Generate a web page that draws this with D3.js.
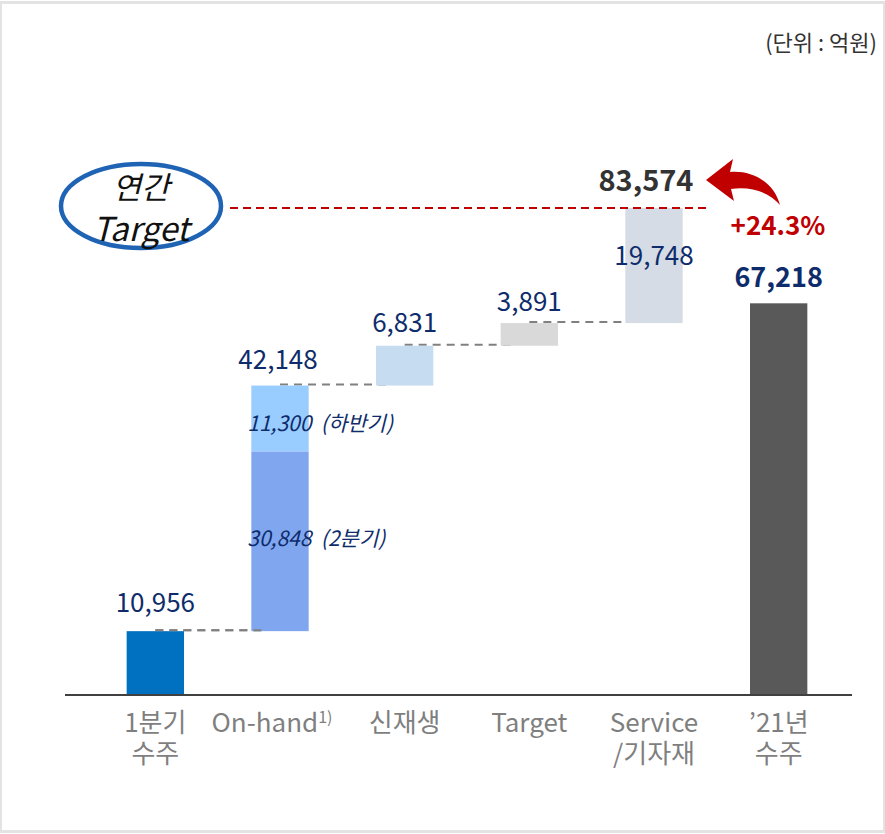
<!DOCTYPE html>
<html>
<head>
<meta charset="utf-8">
<script src="https://cdn.jsdelivr.net/npm/d3@7"></script>
<style>
  body { margin: 0; background: #fff; }
  svg { display: block; font-family: "Noto Sans CJK KR", "Noto Sans", sans-serif; }
</style>
</head>
<body>
<div id="chart"></div>
<script>
/**
 * Data
 */
const categories = ["1분기 수주", "On-hand", "신재생", "Target", "Service /기자재", "'21년 수주"];
const labelLines = [["1분기", "수주"], ["On-hand"], ["신재생"], ["Target"], ["Service", "/기자재"], ["’21년", "수주"]];
const steps = [10956, 42148, 6831, 3891, 19748];
const onHandParts = [30848, 11300];
const onHandPartLabels = ["30,848 (2분기)", "11,300 (하반기)"];
const actual = 67218;
const growthLabel = "+24.3%";

const width = 885;
const height = 834;

const svg = d3.select("#chart")
  .append("svg")
  .attr("width", width)
  .attr("height", height);

// frame
svg.append("rect")
  .attr("x", 0.5).attr("y", 2.5)
  .attr("width", width - 1).attr("height", height - 5)
  .attr("fill", "#fff")
  .attr("stroke", "#e3e3e3")
  .attr("stroke-width", 3);

/**
 * Scales
 */
let running = 0;
const bars = steps.map(function(v, i) {
  const b = { cat: categories[i], start: running, end: running + v, value: v };
  running += v;
  return b;
});
const total = running;

const x = d3.scaleBand()
  .domain(categories)
  .range([93, 841])
  .paddingInner(0.54)
  .paddingOuter(0.27);

const y = d3.scaleLinear()
  .domain([0, total])
  .range([695, 208]);

const barColors = ["#0070C0", null, "#C6DCF0", "#D9D9D9", "#D6DCE5"];
const navy = "#0E2C6B";

function connector(b, i) {
  svg.append("line")
    .attr("x1", x(b.cat) + x.bandwidth() / 2)
    .attr("x2", x(categories[i + 1]) + 10)
    .attr("y1", y(b.end) - 1)
    .attr("y2", y(b.end) - 1)
    .attr("stroke", "#808080")
    .attr("stroke-width", 2)
    .attr("stroke-dasharray", "8,6");
}

/**
 * Connectors
 */
bars.slice(0, -1).forEach(connector);

/**
 * Bars
 */
bars.forEach(function(b, i) {
  if (i === 1) return;
  svg.append("rect")
    .attr("x", x(b.cat))
    .attr("y", y(b.end))
    .attr("width", x.bandwidth())
    .attr("height", y(b.start) - y(b.end))
    .attr("fill", barColors[i]);
});

// on-hand split
const partColors = ["#80A6F0", "#99CCFF"];
let base = bars[1].start;
onHandParts.forEach(function(v, j) {
  svg.append("rect")
    .attr("x", x(categories[1]))
    .attr("y", y(base + v))
    .attr("width", x.bandwidth())
    .attr("height", y(base) - y(base + v))
    .attr("fill", partColors[j]);
  base += v;
});

// final bar
svg.append("rect")
  .attr("x", x(categories[5]))
  .attr("y", y(actual))
  .attr("width", x.bandwidth())
  .attr("height", y(0) - y(actual))
  .attr("fill", "#595959");

// first connector sits over the on-hand bar edge
connector(bars[0], 0);

/**
 * Axis
 */
svg.append("line")
  .attr("x1", 65).attr("x2", 852)
  .attr("y1", y(0)).attr("y2", y(0))
  .attr("stroke", "#404040")
  .attr("stroke-width", 2);

const cat = svg.append("g")
  .attr("fill", "#7F7F7F")
  .attr("font-size", 26)
  .attr("text-anchor", "middle");

labelLines.forEach(function(lines, i) {
  const cx = x(categories[i]) + x.bandwidth() / 2;
  const tx = cat.append("text").attr("y", 732);
  lines.forEach(function(t, k) {
    if (t === "On-hand") {
      tx.append("tspan").attr("x", cx - 8).text(t);
      tx.append("tspan").attr("font-size", 16).attr("dy", -9).text("1)");
    } else {
      tx.append("tspan")
        .attr("x", cx)
        .attr("dy", k === 0 ? 0 : 31)
        .text(t);
    }
  });
});

/**
 * Value labels
 */
const fmt = d3.format(",");
const labelOffsets = [19, 17, 14, 12];
bars.slice(0, 4).forEach(function(b, i) {
  svg.append("text")
    .attr("x", x(b.cat) + x.bandwidth() / 2 - (i === 1 ? 2 : 0))
    .attr("y", y(b.end) - labelOffsets[i])
    .attr("text-anchor", "middle")
    .attr("font-size", 26)
    .attr("fill", navy)
    .text(fmt(b.value));
});

svg.append("text")
  .attr("x", x(categories[4]) + x.bandwidth() / 2)
  .attr("y", y(bars[4].end) + 57)
  .attr("text-anchor", "middle")
  .attr("font-size", 26)
  .attr("fill", navy)
  .text(fmt(bars[4].value));

svg.append("text")
  .attr("x", x(categories[5]) + x.bandwidth() / 2)
  .attr("y", y(actual) - 16)
  .attr("text-anchor", "middle")
  .attr("font-size", 27)
  .attr("font-weight", 700)
  .attr("fill", navy)
  .text(fmt(actual));

// on-hand inner labels
const innerShift = [5, 13];
base = bars[1].start;
onHandParts.forEach(function(v, j) {
  svg.append("text")
    .attr("x", x(categories[1]) - 4)
    .attr("y", (y(base) + y(base + v)) / 2 + innerShift[j])
    .attr("font-size", 21)
    .attr("font-style", "italic")
    .attr("fill", navy)
    .attr("xml:space", "preserve")
    .text(onHandPartLabels[j].replace(" ", "  "));
  base += v;
});

/**
 * Target line & annotations
 */
svg.append("line")
  .attr("x1", 230).attr("x2", 706)
  .attr("y1", y(total)).attr("y2", y(total))
  .attr("stroke", "#C00000")
  .attr("stroke-width", 2)
  .attr("stroke-dasharray", "8,5");

svg.append("text")
  .attr("x", 646)
  .attr("y", y(total) - 17)
  .attr("text-anchor", "middle")
  .attr("font-size", 29)
  .attr("font-weight", 700)
  .attr("fill", "#333333")
  .text(fmt(total));

// curved arrow
svg.append("path")
  .attr("d", "M780,205 C774,182 752,170 730,172 L733,159 L706,180 L734,201 L731,189 C752,186 770,193 780,205 Z")
  .attr("fill", "#C00000");

svg.append("text")
  .attr("x", 778)
  .attr("y", 235)
  .attr("text-anchor", "middle")
  .attr("font-size", 26)
  .attr("font-weight", 600)
  .attr("fill", "#C00000")
  .text(growthLabel);

// ellipse label
svg.append("ellipse")
  .attr("cx", 141).attr("cy", 206)
  .attr("rx", 80).attr("ry", 42)
  .attr("fill", "#fff")
  .attr("stroke", "#1F63B4")
  .attr("stroke-width", 4.5);

svg.append("text")
  .attr("x", 141).attr("y", 199)
  .attr("text-anchor", "middle")
  .attr("font-size", 31)
  .attr("font-style", "italic")
  .attr("fill", "#111")
  .text("연간");

svg.append("text")
  .attr("x", 141).attr("y", 241)
  .attr("text-anchor", "middle")
  .attr("font-size", 33)
  .attr("font-style", "italic")
  .attr("fill", "#111")
  .text("Target");

// unit
svg.append("text")
  .attr("x", 877).attr("y", 51)
  .attr("text-anchor", "end")
  .attr("font-size", 22)
  .attr("fill", "#333")
  .text("(단위 : 억원)");
</script>
</body>
</html>
